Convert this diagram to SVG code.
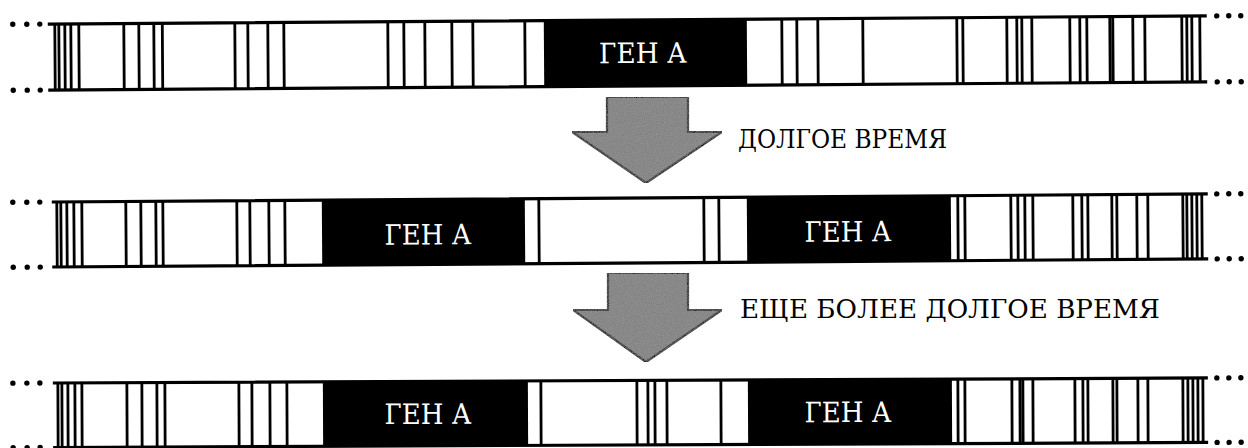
<svg xmlns="http://www.w3.org/2000/svg" width="1248" height="448" viewBox="0 0 1248 448">
<defs>
<filter id="grain" x="0" y="0" width="100%" height="100%">
<feTurbulence type="fractalNoise" baseFrequency="0.9" numOctaves="2" seed="3" result="n"/>
<feColorMatrix in="n" type="matrix" values="0 0 0 0 0.42  0 0 0 0 0.42  0 0 0 0 0.42  0 0 0 0.6 -0.1" result="g"/>
<feComposite in="g" in2="SourceGraphic" operator="in" result="gi"/>
<feMerge><feMergeNode in="SourceGraphic"/><feMergeNode in="gi"/></feMerge>
</filter>
</defs>
<style>
.edge{stroke:#000;stroke-width:3.2;fill:none}
.v{stroke:#000;stroke-width:2.8;fill:none}
.gene{fill:#000}
.dot{fill:#000}
.lbl{font-family:'DejaVu Serif', 'Liberation Serif', serif;font-size:28px;fill:#fff;text-anchor:middle}
.cap{font-family:'DejaVu Serif', 'Liberation Serif', serif;font-size:26px;fill:#000}
.arrow{fill:#7e7e7e;stroke:#111;stroke-width:2.2;stroke-linejoin:miter}
</style>
<rect width="1248" height="448" fill="#fff"/>

<g id="bar1" transform="rotate(-0.4 625 53)">
<path class="edge" d="M48,20 H1207 M48,86 H1207"/>
<g class="dot"><circle cx="13" cy="20" r="2.7"/><circle cx="27" cy="20" r="2.7"/><circle cx="40" cy="20" r="2.7"/><circle cx="13" cy="86" r="2.7"/><circle cx="27" cy="86" r="2.7"/><circle cx="40" cy="86" r="2.7"/><circle cx="1217" cy="20" r="2.7"/><circle cx="1229" cy="20" r="2.7"/><circle cx="1241" cy="20" r="2.7"/><circle cx="1217" cy="86" r="2.7"/><circle cx="1229" cy="86" r="2.7"/><circle cx="1241" cy="86" r="2.7"/></g>
<path class="v" d="M55,20V86 M59,20V86 M65,20V86 M71,20V86 M79,20V86 M124,20V86 M139,20V86 M154,20V86 M162.5,20V86 M235,20V86 M248,20V86 M268,20V86 M284,20V86 M388,20V86 M404,20V86 M425,20V86 M452,20V86 M473,20V86 M525,20V86 M782,20V86 M797,20V86 M818,20V86 M863,20V86 M957,20V86 M963,20V86 M1007,20V86 M1017,20V86 M1022,20V86 M1032,20V86 M1070,20V86 M1080,20V86 M1087,20V86 M1110,20V86 M1113,20V86 M1133,20V86 M1145,20V86 M1182,20V86 M1187,20V86 M1192,20V86 M1200,20V86"/>
<g id="gene1">
<rect class="gene" x="544" y="20" width="203" height="66"/>
<text class="lbl" x="643" y="63" textLength="88" lengthAdjust="spacingAndGlyphs">ГЕН А</text>
</g>
</g>

<g id="bar2" transform="rotate(-0.4 625 230)">
<path class="edge" d="M52,198 H1208 M52,263 H1208"/>
<g class="dot"><circle cx="13" cy="198" r="2.7"/><circle cx="27" cy="198" r="2.7"/><circle cx="40" cy="198" r="2.7"/><circle cx="13" cy="263" r="2.7"/><circle cx="27" cy="263" r="2.7"/><circle cx="40" cy="263" r="2.7"/><circle cx="1217" cy="198" r="2.7"/><circle cx="1229" cy="198" r="2.7"/><circle cx="1241" cy="198" r="2.7"/><circle cx="1217" cy="263" r="2.7"/><circle cx="1229" cy="263" r="2.7"/><circle cx="1241" cy="263" r="2.7"/></g>
<path class="v" d="M57,198V263 M61,198V263 M67,198V263 M74,198V263 M82,198V263 M126,198V263 M141,198V263 M156,198V263 M163,198V263 M237,198V263 M250,198V263 M269,198V263 M285,198V263 M539,198V263 M704,198V263 M719,198V263 M958,198V263 M965,198V263 M1011,198V263 M1018,198V263 M1025,198V263 M1033,198V263 M1073,198V263 M1082,198V263 M1088,198V263 M1112,198V263 M1117,198V263 M1137,198V263 M1148,198V263 M1183,198V263 M1187,198V263 M1192,198V263 M1197,198V263 M1202,198V263"/>
<g id="gene2a">
<rect class="gene" x="322" y="198" width="203" height="65"/>
<text class="lbl" x="428" y="243" textLength="87" lengthAdjust="spacingAndGlyphs">ГЕН А</text>
</g>
<g id="gene2b">
<rect class="gene" x="747" y="198" width="204" height="65"/>
<text class="lbl" x="848" y="243" textLength="87" lengthAdjust="spacingAndGlyphs">ГЕН А</text>
</g>
</g>

<g id="bar3" transform="rotate(-0.25 625 413)">
<path class="edge" d="M53,380.5 H1208 M53,445 H1208"/>
<g class="dot"><circle cx="13" cy="380.5" r="2.7"/><circle cx="27" cy="380.5" r="2.7"/><circle cx="40" cy="380.5" r="2.7"/><circle cx="13" cy="445" r="2.7"/><circle cx="27" cy="445" r="2.7"/><circle cx="40" cy="445" r="2.7"/><circle cx="1217" cy="380.5" r="2.7"/><circle cx="1229" cy="380.5" r="2.7"/><circle cx="1241" cy="380.5" r="2.7"/><circle cx="1217" cy="445" r="2.7"/><circle cx="1229" cy="445" r="2.7"/><circle cx="1241" cy="445" r="2.7"/></g>
<path class="v" d="M58,380.5V445 M62,380.5V445 M68,380.5V445 M75,380.5V445 M82,380.5V445 M127,380.5V445 M142,380.5V445 M157,380.5V445 M165,380.5V445 M239,380.5V445 M252,380.5V445 M270,380.5V445 M287,380.5V445 M541,380.5V445 M637,380.5V445 M648,380.5V445 M655,380.5V445 M667,380.5V445 M721,380.5V445 M958,380.5V445 M965,380.5V445 M1012,380.5V445 M1020,380.5V445 M1023,380.5V445 M1033,380.5V445 M1075,380.5V445 M1083,380.5V445 M1088,380.5V445 M1113,380.5V445 M1117,380.5V445 M1138,380.5V445 M1148,380.5V445 M1183,380.5V445 M1188,380.5V445 M1193,380.5V445 M1198,380.5V445 M1203,380.5V445"/>
<g id="gene3a">
<rect class="gene" x="323" y="380.5" width="205" height="64.5"/>
<text class="lbl" x="428" y="423" textLength="87" lengthAdjust="spacingAndGlyphs">ГЕН А</text>
</g>
<g id="gene3b">
<rect class="gene" x="748" y="380.5" width="204" height="64.5"/>
<text class="lbl" x="848" y="423" textLength="87" lengthAdjust="spacingAndGlyphs">ГЕН А</text>
</g>
</g>

<g id="connectors">
<g id="arrow1">
<path class="arrow" filter="url(#grain)" d="M607,97 H688 V132 H722 L646,183 L572,132 H607 Z"/>
<text class="cap" x="738" y="148" textLength="209" lengthAdjust="spacingAndGlyphs">ДОЛГОЕ ВРЕМЯ</text>
</g>
<g id="arrow2">
<path class="arrow" filter="url(#grain)" d="M608,273 H688 V310 H722 L646,362 L573,310 H608 Z"/>
<text class="cap" x="740" y="318" textLength="420" lengthAdjust="spacingAndGlyphs">ЕЩЕ БОЛЕЕ ДОЛГОЕ ВРЕМЯ</text>
</g>
</g>
</svg>
